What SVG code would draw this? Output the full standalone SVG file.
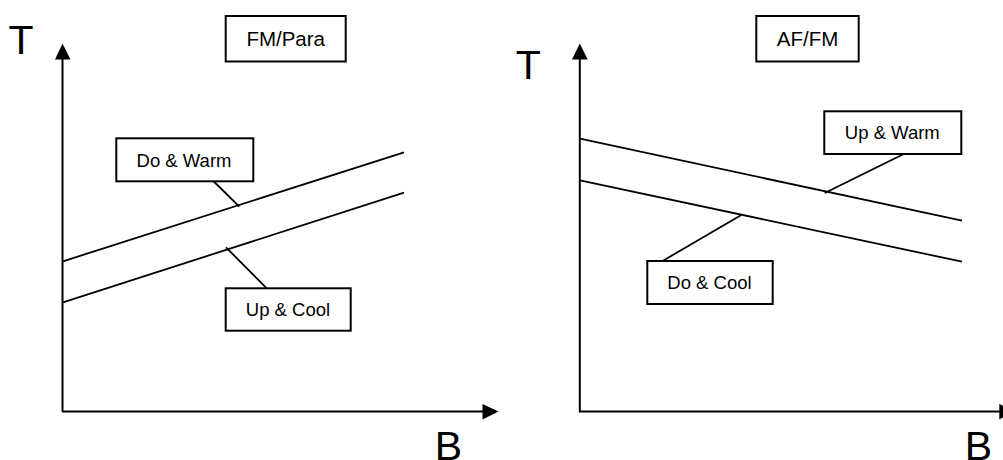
<svg xmlns="http://www.w3.org/2000/svg" width="1003" height="460" viewBox="0 0 1003 460">
<style>
.bg{fill:#fff}
.box{fill:#fff;stroke:#000;stroke-width:2}
.ln{stroke:#000;stroke-width:1.8;fill:none}
.ax{stroke:#000;stroke-width:2;fill:none}
.lbl{font-family:"Liberation Sans",Arial,sans-serif;font-size:18.5px;fill:#000;text-anchor:middle}
.ttl{font-family:"Liberation Sans",Arial,sans-serif;font-size:20.5px;fill:#000;text-anchor:middle}
.axl{font-family:"Liberation Sans",Arial,sans-serif;font-size:41px;fill:#000;text-anchor:middle}
.ah{fill:#000}
</style>
<rect class="bg" x="0" y="0" width="1003" height="460"/>
<g id="connectors">
  <!-- left panel axes -->
  <line class="ax" x1="62.5" y1="411.5" x2="62.5" y2="58"/>
  <polygon class="ah" points="62.5,43.5 55,59.5 70.5,59.5"/>
  <line class="ax" x1="62" y1="411.5" x2="484" y2="411.5"/>
  <polygon class="ah" points="498.5,411.5 482.5,404 482.5,419.5"/>
  <!-- left panel lines -->
  <line class="ln" x1="63" y1="261.3" x2="404" y2="152.3"/>
  <line class="ln" x1="63" y1="302.3" x2="404" y2="192.7"/>
  <line class="ln" x1="212.3" y1="180" x2="239.3" y2="206.7"/>
  <line class="ln" x1="226" y1="247.3" x2="266.7" y2="288.3"/>
  <!-- right panel axes -->
  <line class="ax" x1="579.8" y1="411.5" x2="579.8" y2="58"/>
  <polygon class="ah" points="579.8,43.5 572,59.5 587.7,59.5"/>
  <line class="ax" x1="579" y1="411.5" x2="1003" y2="411.5"/>
  <polygon class="ah" points="1015,411.5 999.3,404 999.3,419.5"/>
  <!-- right panel lines -->
  <line class="ln" x1="580" y1="138.7" x2="962" y2="220.7"/>
  <line class="ln" x1="580" y1="180.3" x2="962" y2="261.7"/>
  <line class="ln" x1="906.3" y1="152.7" x2="824.7" y2="193"/>
  <line class="ln" x1="741.3" y1="215" x2="661.3" y2="261.7"/>
</g>
<g id="axis-labels">
  <text class="axl" x="21" y="54">T</text>
  <text class="axl" x="448.5" y="459.5">B</text>
  <text class="axl" x="528.3" y="78.5">T</text>
  <text class="axl" x="978.5" y="459.5">B</text>
</g>
<g id="title-fm-para">
  <rect class="box" x="225.7" y="16" width="120" height="45.5"/>
  <text class="ttl" x="285.7" y="46">FM/Para</text>
</g>
<g id="do-warm">
  <rect class="box" x="116.3" y="138.3" width="137" height="43"/>
  <text class="lbl" x="184" y="166.5">Do &amp; Warm</text>
</g>
<g id="up-cool">
  <rect class="box" x="225.7" y="288.3" width="125" height="42.4"/>
  <text class="lbl" x="288" y="316">Up &amp; Cool</text>
</g>
<g id="title-af-fm">
  <rect class="box" x="756.3" y="16" width="102.4" height="45.5"/>
  <text class="ttl" x="807.5" y="46">AF/FM</text>
</g>
<g id="up-warm">
  <rect class="box" x="824.3" y="111.3" width="137" height="42.7"/>
  <text class="lbl" x="892.3" y="139">Up &amp; Warm</text>
</g>
<g id="do-cool">
  <rect class="box" x="647.3" y="261" width="125.4" height="43"/>
  <text class="lbl" x="709.5" y="289">Do &amp; Cool</text>
</g>
</svg>
